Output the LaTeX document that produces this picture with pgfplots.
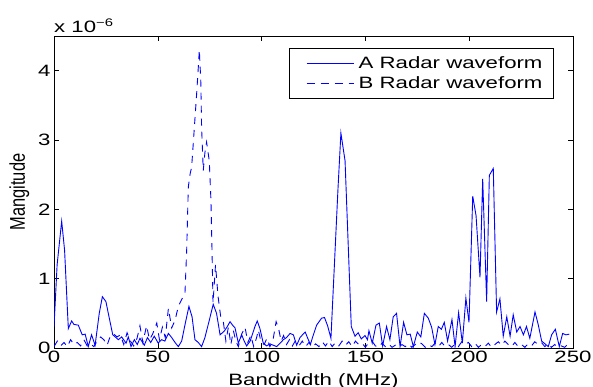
\documentclass[border=0pt]{standalone}
\usepackage{fontspec}
\setmainfont{Liberation Sans}[FakeStretch=1.35]
\newfontfamily\rotfont{Liberation Sans}
\usepackage{graphicx}
\usepackage{pgfplots}
\pgfplotsset{compat=1.18}
\definecolor{mblue}{RGB}{0,0,255}
\begin{document}
\begin{tikzpicture}
\path[use as bounding box] (-54bp,-39bp) rectangle (539bp,348bp);
\begin{axis}[
 name=ax,
 at={(0,0)}, anchor=south west,
 scale only axis, width=519bp, height=312bp,
 xmin=0, xmax=250, ymin=0, ymax=4.5,
 xtick={0,50,100,150,200,250}, ytick={0,1,2,3,4},
 tick align=inside,
 major tick length=5bp,
 axis line style={line width=0.8bp},
 every tick/.style={black, line width=0.6bp},
 font=\fontsize{16}{19}\selectfont,
 tick label style={font=\fontsize{16.5}{19}\selectfont},
 label style={font=\fontsize{16.5}{19}\selectfont},
 /pgf/number format/assume math mode=true,
 xlabel={Bandwidth (MHz)},
 xlabel style={at={(axis description cs:0.5,-0.1186)}, anchor=base},
 ylabel={\scalebox{1}[1.3]{\rotfont Mangitude}},
 ylabel style={at={(axis description cs:-0.0559,0.5)}, anchor=base, rotate=0},
 legend style={at={(0.963,0.9625)}, anchor=north east, draw=black, line width=0.6bp,
   font=\fontsize{16.5}{19}\selectfont, inner xsep=9bp, inner ysep=6.5bp, row sep=3bp},
 legend cell align=left,
]
\addplot[mblue, line width=0.9bp,
  legend image code/.code={\path[draw=none] (0bp,0bp) -- (58bp,0bp); \draw[draw=mblue, line width=0.9bp, solid] (8bp,0bp) -- (55bp,0bp);}] coordinates {
(0,0.30) (1.5,1.2) (3.7,1.83) (5.1,1.41) (6.9,0.28) (8.5,0.39) (9.6,0.34) (11.7,0.33)
(13.6,0.19) (15.0,0.20) (16.5,0.02) (18.1,0.19) (19.8,0.04) (21.8,0.50) (23.3,0.74)
(25.0,0.67) (26.5,0.45) (28.3,0.19) (29.5,0.16) (31.0,0.12) (32.6,0.16) (34.7,0.07)
(35.8,0.16) (37.1,0.02) (38.7,0.12) (40.1,0.05) (41.4,0.14) (43.5,0.04) (45.0,0.15)
(46.6,0.08) (48.3,0.17) (50.2,0.07) (51.8,0.12) (53.4,0.10) (55.1,0.21) (56.7,0.15)
(58.3,0.08) (59.9,0.02) (61.5,0.10) (63.2,0.35) (65.0,0.60) (66.5,0.45) (67.9,0.12)
(69.5,0.08) (71.1,0.02) (72.7,0.15) (74.8,0.40) (76.7,0.63) (78.3,0.50) (80.0,0.19)
(81.9,0.24) (83.3,0.30) (84.8,0.38) (86.0,0.33) (87.2,0.29) (88.8,0.07) (90.4,0.19)
(91.6,0.10) (92.8,0.03) (94.5,0.10) (96.8,0.31) (97.9,0.39) (99.2,0.28) (100.8,0.07)
(102.4,0.03) (104.0,0.06) (105.6,0.04) (107.3,0.02) (108.9,0.07) (110.5,0.12) (112.0,0.15)
(113.7,0.21) (115.3,0.19) (116.9,0.04) (118.5,0.15) (120.0,0.20) (121.0,0.23) (122.5,0.12)
(123.5,0.05) (124.5,0.15) (126.5,0.33) (128.9,0.43) (130.3,0.44) (131.8,0.32) (133.4,0.14)
(136.8,2.30) (138.2,3.10) (140.2,2.70) (143.2,0.31) (145.0,0.17) (146.5,0.22) (148.0,0.13)
(149.8,0.18) (151.0,0.12) (151.7,0.25) (153.3,0.07) (155.1,0.33) (156.7,0.36) (158.3,0.03)
(160.2,0.31) (161.8,0.12) (163.4,0.45) (165.0,0.50) (166.7,0.02) (168.4,0.37) (170.0,0.19)
(171.6,0.20) (173.1,0.02) (175.0,0.23) (176.7,0.16) (178.4,0.50) (180.3,0.43) (181.9,0.30)
(183.5,0.05) (185.1,0.31) (186.6,0.27) (188.0,0.37) (189.6,0.10) (191.7,0.41) (193.2,0.02)
(194.9,0.51) (196.7,0.07) (198.4,0.72) (199.9,0.37) (201.7,2.19) (203.3,1.91) (205.2,1.02)
(206.5,2.44) (208.4,0.67) (209.7,2.49) (211.6,2.59) (213.2,0.52) (214.8,0.71) (216.4,0.17)
(218.1,0.45) (219.7,0.17) (221.2,0.48) (222.9,0.23) (224.5,0.31) (226.1,0.19) (227.6,0.31)
(229.2,0.14) (231.7,0.52) (233.3,0.33) (234.9,0.10) (236.5,0.06) (238.1,0.02) (239.7,0.19)
(241.5,0.27) (243.4,0.02) (245.0,0.21) (246.6,0.19) (248.2,0.20)
};
\addlegendentry{A Radar waveform}
\addplot[mblue, line width=0.9bp, dash pattern=on 7bp off 6bp,
  legend image code/.code={\path[draw=none] (0bp,0bp) -- (58bp,0bp); \draw[draw=mblue, line width=0.9bp, dash pattern=on 8bp off 6bp] (8bp,0bp) -- (55bp,0bp);}] coordinates {
(0,0.02) (1.6,0.10) (3.2,0.03) (4.8,0.08) (6.4,0.02) (8.0,0.12) (9.6,0.05) (11.2,0.08)
(12.8,0.03) (14.4,0.12) (16.0,0.03) (17.6,0.06) (19.2,0.02) (20.8,0.10) (22.4,0.16)
(24.0,0.12) (25.6,0.04) (27.2,0.18) (28.8,0.20) (30.4,0.16) (32.0,0.19) (33.6,0.05)
(35.2,0.22) (36.8,0.10) (38.4,0.03) (40.0,0.14) (41.4,0.32) (42.8,0.08) (44.6,0.32)
(46.0,0.12) (47.5,0.20) (49.5,0.36) (50.8,0.12) (52.2,0.30) (53.6,0.15) (55.1,0.57)
(56.7,0.29) (58.3,0.40) (59.9,0.60) (61.5,0.70) (63.1,0.80) (63.9,1.40) (64.7,2.32)
(65.5,2.50) (66.3,2.61) (67.4,3.09) (68.7,3.66) (69.7,4.14) (70.0,4.30) (70.7,3.86)
(71.1,3.18) (71.9,2.56) (72.7,2.82) (73.5,2.97) (74.8,2.70) (75.6,2.13) (76.1,1.43)
(76.6,0.65) (77.8,1.20) (79.0,0.75) (80.3,0.45) (81.6,0.37) (82.8,0.10) (84.0,0.30)
(85.2,0.05) (86.4,0.25) (87.6,0.10) (88.8,0.02) (90.4,0.20) (92.0,0.30) (93.4,0.08)
(94.8,0.18) (96.2,0.02) (97.6,0.15) (98.4,0.26) (99.8,0.08) (101.2,0.05) (102.6,0.14)
(104.0,0.02) (105.4,0.10) (107.0,0.38) (108.2,0.28) (109.4,0.10) (110.6,0.18) (112.0,0.05)
(113.4,0.12) (114.8,0.03) (116.2,0.10) (118.0,0.03) (119.6,0.10) (121.2,0.02) (122.8,0.08)
(124.4,0.01) (126.0,0.06) (127.6,0.02) (129.2,0.09) (130.8,0.03) (132.4,0.10) (134.0,0.02)
(135.6,0.08) (137.2,0.03) (138.8,0.10) (140.4,0.04) (142.0,0.09) (143.6,0.02) (145.2,0.10)
(146.8,0.05) (148.4,0.07) (150.0,0.01) (151.6,0.08) (153.2,0.10) (154.8,0.03) (156.4,0.01)
(158.0,0.07) (159.6,0.02) (161.2,0.06) (162.8,0.01) (164.4,0.04) (166.0,0.01) (167.6,0.05)
(169.2,0.02) (170.8,0.06) (172.4,0.01) (174.0,0.05) (175.6,0.09) (177.2,0.06) (178.8,0.01)
(180.4,0.05) (182.0,0.02) (183.6,0.07) (185.2,0.02) (186.8,0.08) (188.4,0.02) (190.0,0.05)
(191.6,0.01) (193.2,0.06) (194.8,0.02) (196.4,0.09) (198.0,0.05) (199.6,0.08) (201.2,0.02)
(202.8,0.07) (204.4,0.01) (206.0,0.05) (207.6,0.02) (209.2,0.07) (210.8,0.01) (212.4,0.05)
(214.0,0.09) (215.6,0.04) (217.2,0.10) (218.8,0.05) (220.4,0.02) (222.0,0.08) (223.6,0.02)
(225.2,0.05) (226.8,0.01) (228.4,0.06) (230.0,0.03) (231.6,0.09) (233.2,0.05) (234.8,0.08)
(236.4,0.02) (238.0,0.06) (239.6,0.01) (241.2,0.05) (242.8,0.01) (244.4,0.03) (246.0,0.01)
(247.6,0.06) (248.6,0.10)
};
\addlegendentry{B Radar waveform}
\end{axis}
\node[anchor=base west, inner sep=0pt, font=\fontsize{16.5}{19}\selectfont] at ([yshift=4bp]ax.north west) {x 10\raisebox{6bp}{\fontsize{11}{12}\selectfont −6}};
\end{tikzpicture}
\end{document}
